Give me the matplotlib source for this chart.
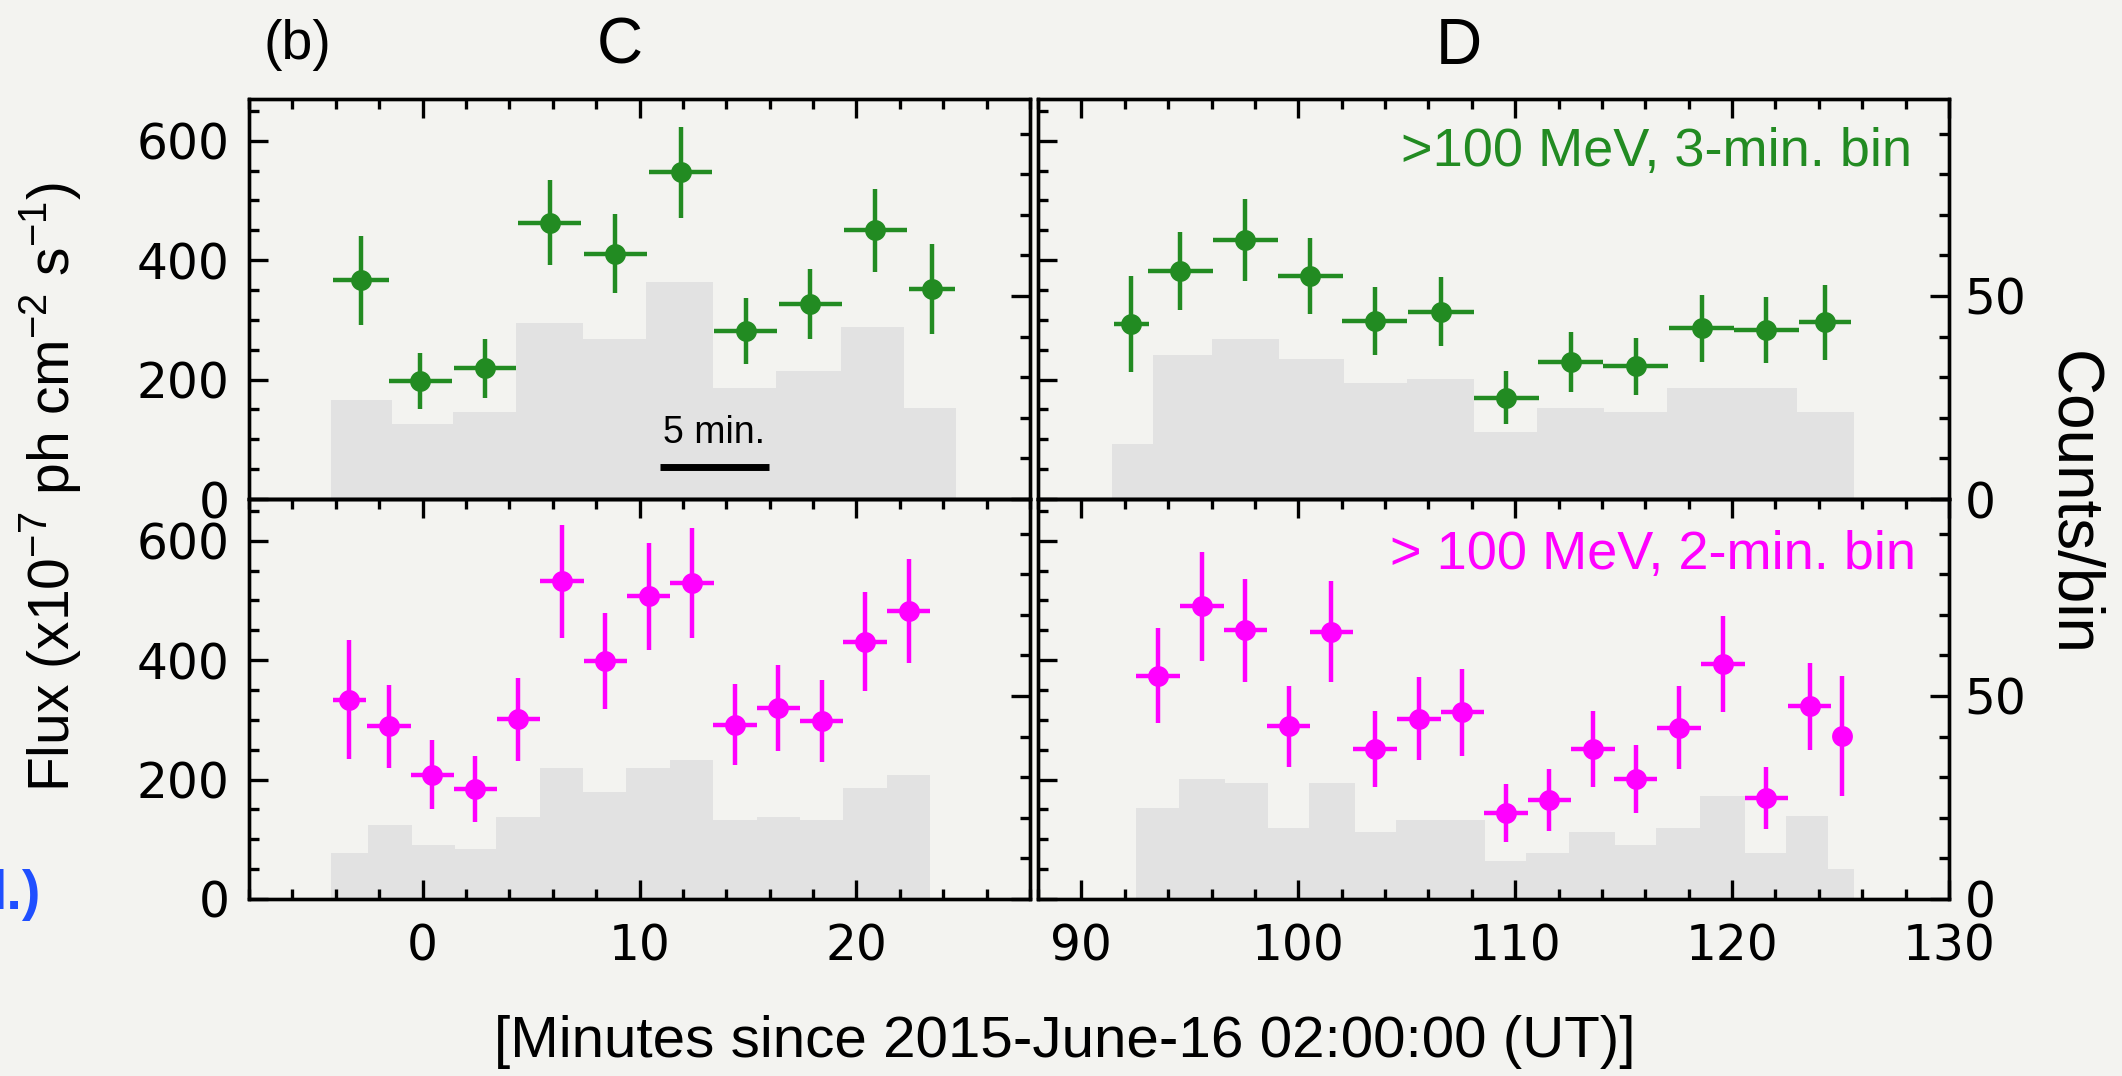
import matplotlib
matplotlib.use("Agg")
import matplotlib.pyplot as plt
from matplotlib.ticker import MultipleLocator

plt.rcParams['font.family'] = ['Liberation Sans', 'DejaVu Sans']

### DATA ###
# C, >100 MeV, 3-min bins (green)
c3_x = [-2.85, -0.1, 2.88, 5.87, 8.89, 11.89, 14.9, 17.88, 20.87, 23.47]
c3_xerr = [1.3, 1.45, 1.45, 1.45, 1.45, 1.45, 1.45, 1.45, 1.45, 1.05]
c3_flux = [366, 198, 219, 463, 411, 547, 281, 327, 450, 352]
c3_err = [75, 47, 49, 71, 66, 76, 55, 59, 69, 75]
c3_edges = [-4.2, -1.4, 1.4, 4.3, 7.4, 10.3, 13.4, 16.3, 19.3, 22.2, 24.6]
c3_counts = [24.3, 18.4, 21.5, 43.3, 39.3, 53.4, 27.4, 31.5, 42.4, 22.4]

# D, >100 MeV, 3-min bins (green)
d3_x = [92.3, 94.56, 97.56, 100.56, 103.53, 106.58, 109.58, 112.56, 115.56, 118.6, 121.58, 124.28]
d3_xerr = [0.8, 1.5, 1.5, 1.5, 1.5, 1.5, 1.5, 1.5, 1.5, 1.5, 1.5, 1.2]
d3_flux = [293, 382, 434, 374, 298, 314, 170, 229, 222, 286, 283, 296]
d3_err = [80, 65, 69, 64, 57, 58, 44, 50, 48, 56, 55, 63]
d3_edges = [91.4, 93.3, 96.0, 99.1, 102.1, 105.0, 108.1, 111.0, 114.1, 117.0, 120.1, 123.0, 125.6]
d3_counts = [13.5, 35.4, 39.3, 34.4, 28.5, 29.5, 16.4, 22.4, 21.5, 27.3, 27.3, 21.5]

# C, >100 MeV, 2-min bins (magenta)
c2_x = [-3.37, -1.55, 0.45, 2.43, 4.42, 6.42, 8.42, 10.42, 12.42, 14.4, 16.4, 18.4, 20.4, 22.4]
c2_xerr = [0.75, 1, 1, 1, 1, 1, 1, 1, 1, 1, 1, 1, 1, 1]
c2_flux = [334, 289, 208, 184, 301, 532, 399, 507, 529, 292, 320, 298, 431, 483]
c2_err = [100, 69, 58, 55, 70, 94, 80, 90, 92, 68, 72, 68, 83, 87]
c2_edges = [-4.2, -2.5, -0.5, 1.5, 3.4, 5.4, 7.4, 9.4, 11.4, 13.4, 15.4, 17.4, 19.4, 21.4, 23.4]
c2_counts = [11.3, 18.3, 13.3, 12.3, 20.2, 32.2, 26.4, 32.2, 34.2, 19.4, 20.2, 19.4, 27.3, 30.5]

# D, >100 MeV, 2-min bins (magenta)
d2_x = [93.53, 95.56, 97.56, 99.56, 101.53, 103.53, 105.56, 107.56, 109.58, 111.58,
        113.58, 115.56, 117.56, 119.58, 121.58, 123.58, 125.06]
d2_xerr = [1, 1, 1, 1, 1, 1, 1, 1, 1, 1, 1, 1, 1, 1, 1, 1, 0.2]
d2_flux = [374, 490, 450, 289, 448, 251, 302, 313, 144, 166, 251, 201, 287, 394, 169, 323, 273]
d2_err = [80, 91, 86, 68, 85, 64, 70, 73, 48, 52, 64, 57, 69, 80, 52, 73, 101]
d2_edges = [92.5, 94.5, 96.6, 98.6, 100.5, 102.6, 104.5, 106.6, 108.6, 110.5, 112.5,
            114.6, 116.5, 118.5, 120.6, 122.5, 124.4, 125.6]
d2_counts = [22.4, 29.5, 28.5, 17.5, 28.5, 16.4, 19.4, 19.4, 9.4, 11.3, 16.4, 13.4,
             17.5, 25.4, 11.3, 20.5, 7.5]

GREEN = '#228b22'
MAGENTA = '#ff00ff'
BAR = '#e2e2e2'
PAPER = '#f3f3f0'

FLUX_LIM = (0, 670)
COUNT_LIM = (0, 98.5)

W, H = 2122, 1076
fig = plt.figure(figsize=(W / 100, H / 100), dpi=100, facecolor=PAPER)


def panel(px, py, pw, ph, xlim, x, xerr, flux, err, edges, counts, color,
          lower, left_labels, right_labels):
    ax = fig.add_axes([px / W, 1 - (py + ph) / H, pw / W, ph / H])
    tw = ax.twinx()
    ax.set_zorder(tw.get_zorder() + 1)
    ax.patch.set_visible(False)

    # counts histogram (grey) on the right-hand scale
    tw.stairs(counts, edges, fill=True, color=BAR, linewidth=0)
    tw.set_ylim(*COUNT_LIM)
    tw.yaxis.set_major_locator(MultipleLocator(50))
    tw.yaxis.set_minor_locator(MultipleLocator(10))

    # flux points
    ax.errorbar(x, flux, xerr=xerr, yerr=err, fmt='o', color=color, ms=15,
                elinewidth=3.2, capsize=0, mew=0)
    ax.set_xlim(*xlim)
    ax.set_ylim(*FLUX_LIM)
    ax.xaxis.set_major_locator(MultipleLocator(10))
    ax.xaxis.set_minor_locator(MultipleLocator(2))
    ax.yaxis.set_major_locator(MultipleLocator(200))
    ax.yaxis.set_minor_locator(MultipleLocator(50))

    for a in (ax, tw):
        for s in a.spines.values():
            s.set_linewidth(2.4)
        a.tick_params(which='both', direction='in', width=2.4,
                      labelsize=35, labelfontfamily='DejaVu Sans')
        a.tick_params(which='major', length=13.5)
        a.tick_params(which='minor', length=7)

    ax.tick_params(which='both', left=True, right=False, top=True, bottom=lower,
                   labelleft=left_labels, labelbottom=lower, labeltop=False)
    ax.tick_params(axis='y', pad=14)
    ax.tick_params(axis='x', pad=17)
    tw.tick_params(which='both', labelright=right_labels)
    tw.tick_params(axis='y', pad=11)
    return ax, tw


ax_c3, _ = panel(249, 99, 781, 400, (-8, 28), c3_x, c3_xerr, c3_flux, c3_err,
                 c3_edges, c3_counts, GREEN, False, True, False)
ax_d3, _ = panel(1038, 99, 911, 400, (88, 130), d3_x, d3_xerr, d3_flux, d3_err,
                 d3_edges, d3_counts, GREEN, False, False, True)
ax_c2, _ = panel(249, 499, 781, 400, (-8, 28), c2_x, c2_xerr, c2_flux, c2_err,
                 c2_edges, c2_counts, MAGENTA, True, True, False)
ax_d2, _ = panel(1038, 499, 911, 400, (88, 130), d2_x, d2_xerr, d2_flux, d2_err,
                 d2_edges, d2_counts, MAGENTA, True, False, True)

# 5-minute scale bar
ax_c3.plot([10.95, 15.95], [54, 54], color='black', lw=5, solid_capstyle='butt')
ax_c3.text(13.45, 80, '5 min.', ha='center', va='bottom', fontsize=27)

# energy band labels
ax_d3.text(0.959, 0.868, '>100 MeV, 3-min. bin', transform=ax_d3.transAxes,
           ha='right', va='center', fontsize=39, color=GREEN)
ax_d2.text(0.964, 0.86, '> 100 MeV, 2-min. bin', transform=ax_d2.transAxes,
           ha='right', va='center', fontsize=39, color=MAGENTA)

# titles and axis labels
fig.text(297 / W, 1 - 45 / H, '(b)', ha='center', va='center', fontsize=40)
fig.text(620 / W, 1 - 47 / H, 'C', ha='center', va='center', fontsize=46)
fig.text(1459 / W, 1 - 47 / H, 'D', ha='center', va='center', fontsize=46)
fig.text(51 / W, 1 - 487 / H,
         r'Flux (x10$^{\mathregular{-7}}$ ph cm$^{\mathregular{-2}}$ s$^{\mathregular{-1}}$)',
         rotation=90, ha='center', va='center', fontsize=41)
fig.text(2072 / W, 1 - 503 / H, 'Counts/bin', rotation=270,
         ha='center', va='center', fontsize=46)
fig.text(1065 / W, 1 - 1042 / H, '[Minutes since 2015-June-16 02:00:00 (UT)]',
         ha='center', va='center', fontsize=42)
fig.text(-0.004, 1 - 895 / H, 'l.)', ha='left', va='center', fontsize=40,
         fontweight='bold', color='#1f4fff')

fig.savefig('out.png', dpi=100, facecolor=PAPER)
